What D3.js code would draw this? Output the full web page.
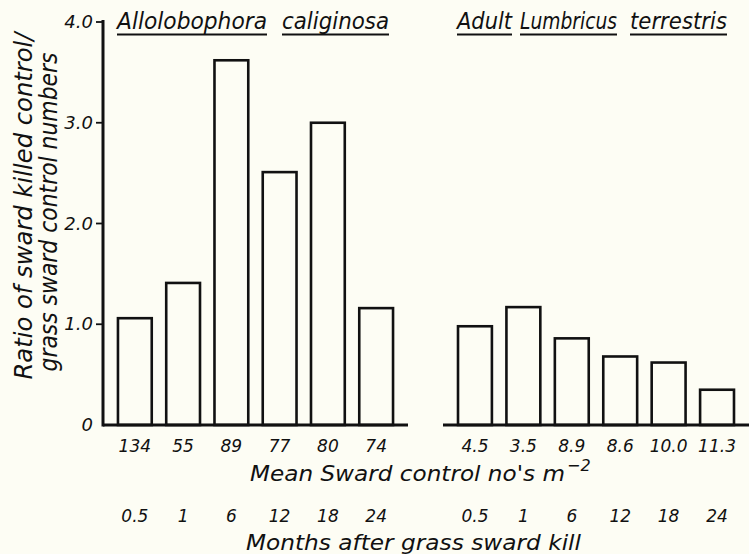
<!DOCTYPE html>
<html>
<head>
<meta charset="utf-8">
<script src="https://cdn.jsdelivr.net/npm/d3@7"></script>
<style>
  html, body { margin: 0; padding: 0; background: #fdfdf4; }
  svg { display: block; }
  text { font-family: "DejaVu Sans", sans-serif; font-style: italic; fill: #111; }
</style>
</head>
<body>
<svg id="chart" width="749" height="554"></svg>
<script>
// Months after the grass sward was killed (same sampling dates for both species)
const months = ["0.5", "1", "6", "12", "18", "24"];

// Allolobophora caliginosa: ratio of sward-killed to grass-sward numbers
const alloRatio = [1.06, 1.41, 3.62, 2.51, 3.00, 1.16];
// Mean sward control numbers per m²
const alloControl = ["134", "55", "89", "77", "80", "74"];

// Adult Lumbricus terrestris
const lumbRatio = [0.98, 1.17, 0.86, 0.68, 0.62, 0.35];
const lumbControl = ["4.5", "3.5", "8.9", "8.6", "10.0", "11.3"];

// Y axis ticks
const yTicks = [0, 1, 2, 3, 4];
const yTickLabels = ["0", "1.0", "2.0", "3.0", "4.0"];

const svg = d3.select("#chart");
const ink = "#111";

const baseY = 425;
const y = d3.scaleLinear().domain([0, 4]).range([baseY, 22]);

// each title word is set on its own underline span
const panels = [
  { words: [["Allolobophora", 117, 267], ["caliginosa", 282, 389]],
    ratio: alloRatio, control: alloControl, range: [103, 408] },
  { words: [["Adult", 457, 512], ["Lumbricus", 520, 617], ["terrestris", 630, 727]],
    ratio: lumbRatio, control: lumbControl, range: [443, 749] }
];

panels.forEach(p => {
  const x = d3.scaleBand().domain(months).range(p.range)
    .paddingInner(0.3).paddingOuter(0.31);

  // baseline
  svg.append("line")
    .attr("x1", p.range[0]).attr("x2", p.range[1])
    .attr("y1", baseY).attr("y2", baseY)
    .attr("stroke", ink).attr("stroke-width", 3);

  // bars
  svg.append("g").selectAll("rect")
    .data(p.ratio)
    .join("rect")
    .attr("x", (d, i) => x(months[i]))
    .attr("y", d => y(d))
    .attr("width", x.bandwidth())
    .attr("height", d => baseY - y(d))
    .attr("fill", "none")
    .attr("stroke", ink)
    .attr("stroke-width", 2.6);

  // control numbers under each bar
  svg.append("g").selectAll("text")
    .data(p.control)
    .join("text")
    .attr("x", (d, i) => x(months[i]) + x.bandwidth() / 2)
    .attr("y", 452)
    .attr("text-anchor", "middle")
    .attr("font-size", 17)
    .text(d => d);

  // months row
  svg.append("g").selectAll("text")
    .data(months)
    .join("text")
    .attr("x", d => x(d) + x.bandwidth() / 2)
    .attr("y", 522)
    .attr("text-anchor", "middle")
    .attr("font-size", 17)
    .text(d => d);

  // panel title, underlined word by word
  const title = svg.append("g");
  title.selectAll("text")
    .data(p.words)
    .join("text")
    .attr("x", d => d[1]).attr("y", 29)
    .attr("font-size", 23)
    .attr("textLength", d => d[2] - d[1])
    .attr("lengthAdjust", "spacingAndGlyphs")
    .text(d => d[0]);
  title.selectAll("line")
    .data(p.words)
    .join("line")
    .attr("x1", d => d[1]).attr("x2", d => d[2])
    .attr("y1", 34.5).attr("y2", 34.5)
    .attr("stroke", ink).attr("stroke-width", 2.2);
});

// y axis line
svg.append("line")
  .attr("x1", 103).attr("x2", 103)
  .attr("y1", y(4) - 2).attr("y2", baseY + 1.5)
  .attr("stroke", ink).attr("stroke-width", 3);

// y ticks and labels
const yAxis = svg.append("g");
yAxis.selectAll("line")
  .data(yTicks.filter(d => d > 0))
  .join("line")
  .attr("x1", 96).attr("x2", 103)
  .attr("y1", d => y(d)).attr("y2", d => y(d))
  .attr("stroke", ink).attr("stroke-width", 1.8);
yAxis.selectAll("text")
  .data(yTicks)
  .join("text")
  .attr("x", 93)
  .attr("y", d => y(d) + 6)
  .attr("text-anchor", "end")
  .attr("font-size", 18)
  .text((d, i) => yTickLabels[i]);

// y axis title, two rotated lines
const yTitle = [
  { text: "Ratio of sward killed control/", x: 32, cy: 206, len: 347 },
  { text: "grass sward control numbers", x: 57, cy: 212, len: 319 }
];
yTitle.forEach(t => {
  svg.append("text")
    .attr("transform", `translate(${t.x},${t.cy}) rotate(-90)`)
    .attr("text-anchor", "middle")
    .attr("font-size", 24)
    .attr("textLength", t.len)
    .attr("lengthAdjust", "spacingAndGlyphs")
    .text(t.text);
});

// x axis titles
const mean = svg.append("text")
  .attr("x", 250).attr("y", 481)
  .attr("font-size", 22);
mean.append("tspan")
  .attr("textLength", 315)
  .attr("lengthAdjust", "spacingAndGlyphs")
  .text("Mean Sward control no's m");
mean.append("tspan")
  .attr("dy", -10)
  .attr("dx", 2)
  .attr("font-size", 16)
  .text("\u22122");

svg.append("text")
  .attr("x", 246).attr("y", 550)
  .attr("font-size", 22)
  .attr("textLength", 335)
  .attr("lengthAdjust", "spacingAndGlyphs")
  .text("Months after grass sward kill");
</script>
</body>
</html>
